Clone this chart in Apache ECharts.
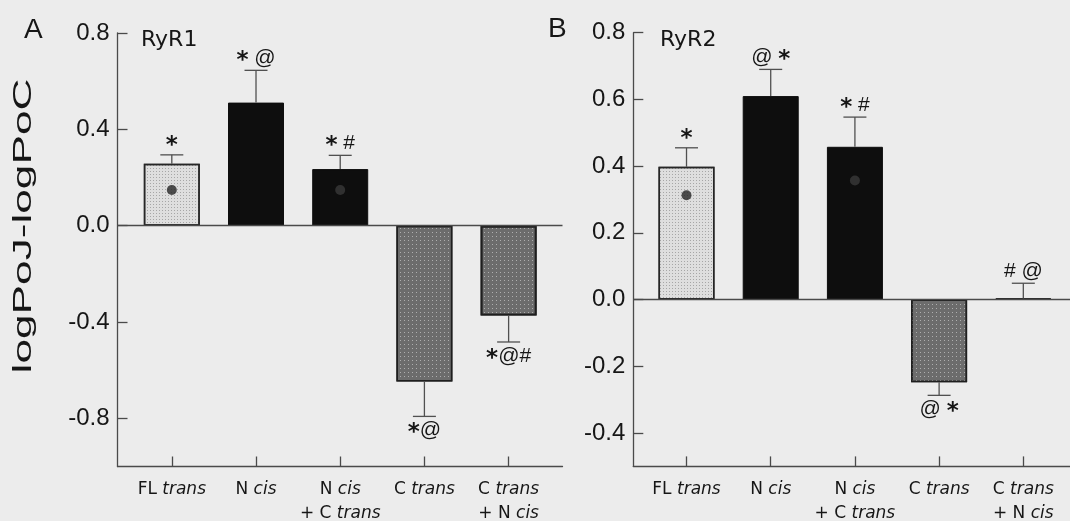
<!DOCTYPE html>
<html>
<head>
<meta charset="utf-8">
<script src="https://cdn.jsdelivr.net/npm/echarts@6/dist/echarts.min.js"></script>
<style>
  html, body { margin: 0; padding: 0; background: #ececec; }
  #chart { width: 1070px; height: 521px; }
</style>
</head>
<body>
<div id="chart"></div>
<script>
// Category names (the words "trans" and "cis" are set in italics)
const categories = ['FL trans', 'N cis', 'N cis\n+ C trans', 'C trans', 'C trans\n+ N cis'];

// Panel A: RyR1, mean logPoJ-logPoC, SEM, mean marker inside some bars, significance marks
const ryr1Mean = [0.257, 0.511, 0.235, -0.647, -0.373];
const ryr1Sem = [0.037, 0.134, 0.057, 0.145, 0.110];
const ryr1Dot = [0.148, null, 0.148, null, null];
const ryr1Marks = ['*', '* @', '* #', '*@', '*@#'];

// Panel B: RyR2
const ryr2Mean = [0.398, 0.610, 0.458, -0.248, 0.003];
const ryr2Sem = [0.057, 0.080, 0.089, 0.039, 0.046];
const ryr2Dot = [0.313, null, 0.357, null, null];
const ryr2Marks = ['*', '@ *', '* #', '@ *', '# @'];

// Axis tick values
const ryr1Ticks = [-0.8, -0.4, 0, 0.4, 0.8];
const ryr2Ticks = [-0.4, -0.2, 0, 0.2, 0.4, 0.6, 0.8];
const catTicks = [0, 1, 2, 3, 4];

const AXIS = '#4a4a4a';
const TEXT = '#161616';

const grayDecal = { symbol: 'rect', symbolSize: 1, dashArrayX: [1, 3], dashArrayY: [1, 3], color: 'rgba(255,255,255,0.45)' };
const barStyles = [
  { color: '#dedede', borderColor: '#262626', borderWidth: 1.5,
    decal: { symbol: 'rect', symbolSize: 1, dashArrayX: [1, 1.5], dashArrayY: [1, 1.5], color: 'rgba(0,0,0,0.25)' } },
  { color: '#0e0e0e', borderColor: '#0e0e0e', borderWidth: 1 },
  { color: '#0e0e0e', borderColor: '#0e0e0e', borderWidth: 1 },
  { color: '#6c6c6c', borderColor: '#1e1e1e', borderWidth: 1.5, decal: grayDecal },
  { color: '#6c6c6c', borderColor: '#1e1e1e', borderWidth: 1.8, decal: grayDecal }
];

function catLabel(v) {
  const s = categories[Math.round(v)] || '';
  return s.replace(/\b(trans|cis)\b/g, '{i|$1}');
}

function xAxisFor(gridIndex, min, max) {
  return {
    type: 'value', gridIndex, min, max,
    splitLine: { show: false },
    axisLine: { show: true, onZero: false, lineStyle: { color: AXIS, width: 1.3 } },
    axisTick: { show: true, inside: true, length: 10, customValues: catTicks, lineStyle: { color: AXIS, width: 1.3 } },
    axisLabel: {
      customValues: catTicks, formatter: catLabel, margin: 11,
      fontFamily: 'DejaVu Sans', fontSize: 17, color: TEXT, lineHeight: 24, align: 'center',
      rich: { i: { fontFamily: 'DejaVu Sans', fontSize: 17, fontStyle: 'italic', color: TEXT, lineHeight: 24 } }
    }
  };
}

function yAxisFor(gridIndex, min, max, ticks) {
  return {
    type: 'value', gridIndex, min, max,
    splitLine: { show: false },
    axisLine: { show: true, onZero: false, lineStyle: { color: AXIS, width: 1.3 } },
    axisTick: { show: true, inside: true, length: 10, customValues: ticks, lineStyle: { color: AXIS, width: 1.3 } },
    axisLabel: {
      customValues: ticks, margin: 8,
      formatter: v => Number(v).toFixed(1),
      fontFamily: 'Liberation Sans', fontSize: 24, color: TEXT
    }
  };
}

function markRich(s) {
  return s.split('').map(c => c === '*' ? '{s|*}' : (c === ' ' ? ' ' : '{a|' + c + '}')).join('');
}

function panelSeries(idx, mean, sem, dot, marks) {
  const bar = {
    type: 'bar', xAxisIndex: idx, yAxisIndex: idx, barWidth: 56,
    data: mean.map((v, i) => ({ value: [i, v], itemStyle: barStyles[i] })),
    markLine: {
      silent: true, symbol: ['none', 'none'], label: { show: false },
      lineStyle: { color: AXIS, width: 1.3, type: 'solid' },
      data: [{ yAxis: 0 }]
    },
    z: 2
  };
  const err = {
    type: 'custom', xAxisIndex: idx, yAxisIndex: idx, z: 3,
    data: mean.map((v, i) => [i, v >= 0 ? v + sem[i] : v - sem[i]]),
    renderItem: (params, api) => {
      const i = params.dataIndex;
      const m = mean[i];
      const up = m >= 0;
      const end = up ? m + sem[i] : m - sem[i];
      const p0 = api.coord([i, m]);
      const p1 = api.coord([i, end]);
      const ls = { stroke: '#505050', lineWidth: 1.3 };
      return {
        type: 'group',
        children: [
          { type: 'line', shape: { x1: p0[0], y1: p0[1], x2: p1[0], y2: p1[1] }, style: ls },
          { type: 'line', shape: { x1: p1[0] - 11.5, y1: p1[1], x2: p1[0] + 11.5, y2: p1[1] }, style: ls },
          {
            type: 'text', x: p1[0], y: up ? p1[1] - 12 : p1[1] + 14,
            style: {
              text: markRich(marks[i]), align: 'center', verticalAlign: 'middle',
              fill: TEXT, font: '21px "Liberation Sans"',
              rich: {
                s: { fontFamily: 'DejaVu Sans', fontWeight: 'bold', fontSize: 23, fill: TEXT, padding: [6, 0, 0, 0] },
                a: { fontFamily: 'Liberation Sans', fontSize: 21, fill: TEXT }
              }
            }
          }
        ]
      };
    }
  };
  const dots = {
    type: 'scatter', xAxisIndex: idx, yAxisIndex: idx, z: 4,
    symbol: 'circle', symbolSize: 10,
    data: dot.map((v, i) => v == null ? null : [i, v]).filter(d => d),
    itemStyle: { color: p => p.data[0] === 0 ? '#262626' : '#3a3a3a' }
  };
  return [bar, err, dots];
}

const chart = echarts.init(document.getElementById('chart'), null, { renderer: 'canvas' });
chart.setOption({
  backgroundColor: '#ececec',
  animation: false,
  grid: [
    { left: 117.5, top: 33, width: 445, height: 433.5, containLabel: false, outerBoundsMode: 'none' },
    { left: 633.3, top: 32.7, width: 445, height: 433.7, containLabel: false, outerBoundsMode: 'none' }
  ],
  xAxis: [xAxisFor(0, -0.645, 4.64), xAxisFor(1, -0.632, 4.653)],
  yAxis: [yAxisFor(0, -1.0, 0.8, ryr1Ticks), yAxisFor(1, -0.5, 0.8, ryr2Ticks)],
  graphic: [
    { type: 'text', x: 24, y: 226, rotation: Math.PI / 2, scaleX: 1.7,
      style: { text: 'logPoJ-logPoC', font: '26px "Liberation Sans"', fill: TEXT, align: 'center', verticalAlign: 'middle' } },
    { type: 'text', x: 24, y: 30,
      style: { text: 'A', font: '28px "Liberation Sans"', fill: TEXT, align: 'left', verticalAlign: 'middle' } },
    { type: 'text', x: 141, y: 40,
      style: { text: 'RyR1', font: '22px "DejaVu Sans"', fill: TEXT, align: 'left', verticalAlign: 'middle' } },
    { type: 'text', x: 548, y: 29,
      style: { text: 'B', font: '28px "Liberation Sans"', fill: TEXT, align: 'left', verticalAlign: 'middle' } },
    { type: 'text', x: 660, y: 40,
      style: { text: 'RyR2', font: '22px "DejaVu Sans"', fill: TEXT, align: 'left', verticalAlign: 'middle' } }
  ],
  series: [
    ...panelSeries(0, ryr1Mean, ryr1Sem, ryr1Dot, ryr1Marks),
    ...panelSeries(1, ryr2Mean, ryr2Sem, ryr2Dot, ryr2Marks)
  ]
});
</script>
</body>
</html>
